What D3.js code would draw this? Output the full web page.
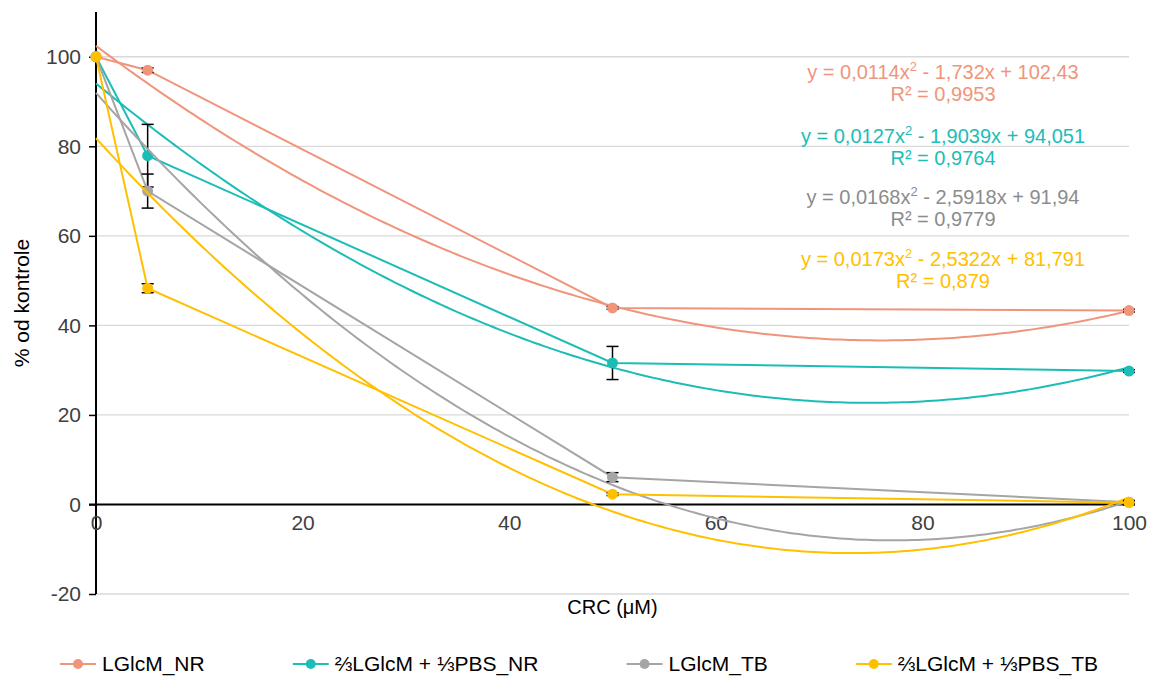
<!DOCTYPE html>
<html><head><meta charset="utf-8">
<script src="https://cdn.jsdelivr.net/npm/d3@7"></script>
<style>
body{margin:0;background:#fff;}
text{font-family:"Liberation Sans",Arial,sans-serif;}
</style></head>
<body><svg id="c" width="1149" height="681"></svg>
<script>
const xValues = [0, 5, 50, 100];
const seriesNames = ["LGlcM_NR", "⅔LGlcM + ⅓PBS_NR", "LGlcM_TB", "⅔LGlcM + ⅓PBS_TB"];
const seriesColors = ["#F0957B", "#1CBDB6", "#A5A5A5", "#FFC000"];
const valsNR = [100, 97, 43.9, 43.3];
const valsPBSNR = [100, 77.9, 31.6, 29.8];
const valsTB = [100, 70, 6.1, 0.5];
const valsPBSTB = [100, 48.3, 2.3, 0.4];
const errNR = [0, 0.5, 0.3, 0.3];
const errPBSNR = [0, 7, 3.7, 0.3];
const errTB = [0, 3.8, 1, 0.3];
const errPBSTB = [0, 1, 0.3, 0.5];
const trendCoefs = [[0.0114, -1.732, 102.43], [0.0127, -1.9039, 94.051], [0.0168, -2.5918, 91.94], [0.0173, -2.5322, 81.791]];
const eqTexts = [["y = 0,0114x", "- 1,732x + 102,43", "R² = 0,9953"],
                 ["y = 0,0127x", "- 1,9039x + 94,051", "R² = 0,9764"],
                 ["y = 0,0168x", "- 2,5918x + 91,94", "R² = 0,9779"],
                 ["y = 0,0173x", "- 2,5322x + 81,791", "R² = 0,879"]];
const xTicks = [0, 20, 40, 60, 80, 100];
const yTicks = [-20, 0, 20, 40, 60, 80, 100];
const xTitle = "CRC (μM)";
const yTitle = "% od kontrole";

const allVals = [valsNR, valsPBSNR, valsTB, valsPBSTB];
const allErr = [errNR, errPBSNR, errTB, errPBSTB];

const svg = d3.select("#c");
const x = d3.scaleLinear().domain([0, 100]).range([96, 1129]);
const y = d3.scaleLinear().domain([-20, 110]).range([594, 12]);
const FONT = "Liberation Sans, Arial, sans-serif";

// gridlines
svg.append("g").selectAll("line").data(yTicks.filter(d => d !== 0)).join("line")
  .attr("x1", x(0)).attr("x2", x(100)).attr("y1", d => y(d)).attr("y2", d => y(d))
  .attr("stroke", "#D9D9D9").attr("stroke-width", 1.3);

// y axis
const yAxis = svg.append("g").attr("transform", `translate(${x(0)},0)`)
  .call(d3.axisLeft(y).tickValues(yTicks).tickSize(7).tickPadding(8).tickFormat(d => String(d)));
yAxis.select(".domain").remove();
yAxis.append("line").attr("x1", 0).attr("x2", 0).attr("y1", y(110)).attr("y2", y(-20)).attr("stroke", "#000").attr("stroke-width", 2);
yAxis.selectAll(".tick line").attr("stroke", "#000").attr("stroke-width", 1.5);
yAxis.selectAll(".tick text").attr("font-size", 21).attr("fill", "#404040").attr("font-family", FONT);

// x axis at y=0
const xAxis = svg.append("g").attr("transform", `translate(0,${y(0)})`)
  .call(d3.axisBottom(x).tickValues(xTicks).tickSize(0).tickPadding(11).tickFormat(d => String(d)));
xAxis.select(".domain").remove();
xAxis.append("line").attr("x1", x(0) - 7).attr("x2", x(100)).attr("y1", 0).attr("y2", 0).attr("stroke", "#000").attr("stroke-width", 2);
xAxis.selectAll(".tick text").attr("font-size", 21).attr("fill", "#404040").attr("font-family", FONT);

// titles
svg.append("text").attr("x", x(50)).attr("y", 614).attr("text-anchor", "middle")
  .attr("font-size", 20).attr("fill", "#000").text(xTitle);
svg.append("text").attr("transform", `translate(29,${y(45)}) rotate(-90)`).attr("text-anchor", "middle")
  .attr("font-size", 21).attr("fill", "#000").text(yTitle);

const line = d3.line().x(d => x(d[0])).y(d => y(d[1]));
const samples = d3.range(0, 100.001, 0.5);

allVals.forEach((vals, i) => {
  const c = seriesColors[i];
  const g = svg.append("g");
  const [a, b, k] = trendCoefs[i];
  g.append("path").datum(samples.map(t => [t, a * t * t + b * t + k]))
    .attr("d", line).attr("fill", "none").attr("stroke", c).attr("stroke-width", 2);
  g.append("path").datum(xValues.map((t, j) => [t, vals[j]]))
    .attr("d", line).attr("fill", "none").attr("stroke", c).attr("stroke-width", 2);
  const eb = g.append("g").selectAll("g").data(xValues.map((t, j) => ({t, v: vals[j], e: allErr[i][j]})).filter(d => d.e > 0)).join("g");
  eb.append("line").attr("x1", d => x(d.t)).attr("x2", d => x(d.t)).attr("y1", d => y(d.v + d.e)).attr("y2", d => y(d.v - d.e)).attr("stroke", "#000").attr("stroke-width", 1.5);
  eb.append("line").attr("x1", d => x(d.t) - 6).attr("x2", d => x(d.t) + 6).attr("y1", d => y(d.v + d.e)).attr("y2", d => y(d.v + d.e)).attr("stroke", "#000").attr("stroke-width", 1.5);
  eb.append("line").attr("x1", d => x(d.t) - 6).attr("x2", d => x(d.t) + 6).attr("y1", d => y(d.v - d.e)).attr("y2", d => y(d.v - d.e)).attr("stroke", "#000").attr("stroke-width", 1.5);
  g.append("g").selectAll("circle").data(xValues.map((t, j) => [t, vals[j]])).join("circle")
    .attr("cx", d => x(d[0])).attr("cy", d => y(d[1])).attr("r", 5.5).attr("fill", c);
});

// equations
const eqY = [72, 136, 197, 259];
const eqColor = i => seriesColors[i] === "#A5A5A5" ? "#8C8C8C" : seriesColors[i];
eqTexts.forEach((e, i) => {
  const t = svg.append("text").attr("x", 943).attr("y", eqY[i] + 7).attr("text-anchor", "middle")
    .attr("font-size", 20).attr("fill", eqColor(i));
  t.append("tspan").text(e[0]);
  t.append("tspan").attr("font-size", 13).attr("dy", -8).text("2");
  t.append("tspan").attr("dy", 8).text(" " + e[1]);
  svg.append("text").attr("x", 943).attr("y", eqY[i] + 29).attr("text-anchor", "middle")
    .attr("font-size", 20).attr("fill", eqColor(i)).text(e[2]);
});

// legend: equal gaps, spanning roughly 60..1098
const symW = 36, symGap = 6, legL = 60, legR = 1098;
const leg = svg.append("g").selectAll("g").data(seriesNames).join("g");
leg.append("line").attr("x1", 0).attr("x2", symW).attr("stroke", (d, i) => seriesColors[i]).attr("stroke-width", 2);
leg.append("circle").attr("cx", symW / 2).attr("r", 5).attr("fill", (d, i) => seriesColors[i]);
leg.append("text").attr("x", symW + symGap).attr("y", 7).attr("font-size", 21).attr("fill", "#000").text(d => d);
const widths = [];
leg.each(function() { widths.push(symW + symGap + d3.select(this).select("text").node().getComputedTextLength()); });
const gap = (legR - legL - d3.sum(widths)) / (widths.length - 1);
let cx = legL;
leg.attr("transform", (d, i) => { const p = cx; cx += widths[i] + gap; return `translate(${p},664)`; });
</script></body></html>
